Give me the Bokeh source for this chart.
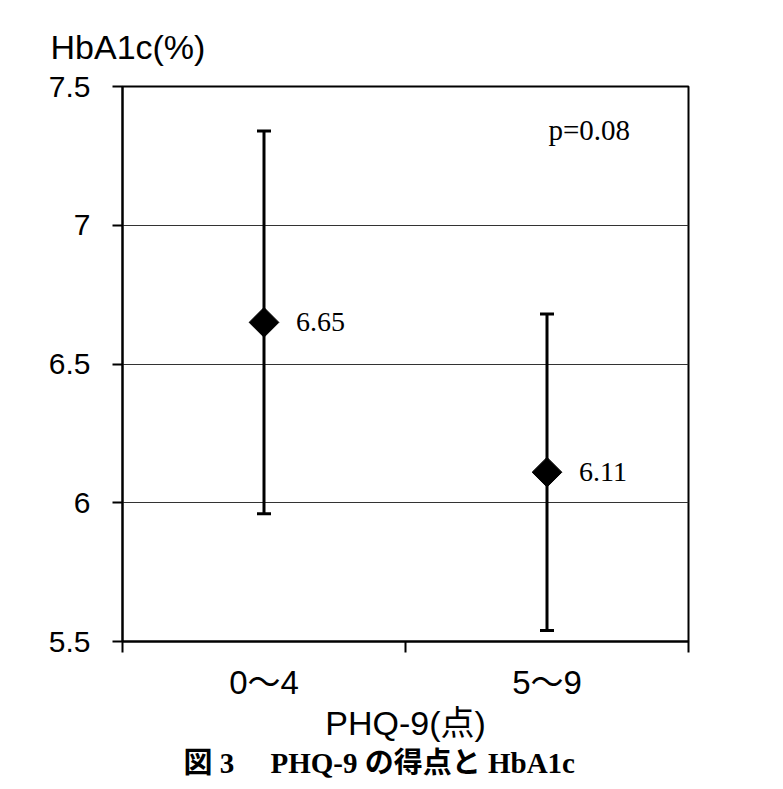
import math
from bokeh.plotting import figure
from bokeh.models import (Range1d, FixedTicker, Whisker, TeeHead, ColumnDataSource, Label, Title)
from bokeh.core.properties import value
from bokeh.embed import file_html
from bokeh.resources import INLINE

# ---- data ----
categories = ["0〜4", "5〜9"]
means = [6.65, 6.11]
upper = [7.34, 6.68]
lower = [5.96, 5.54]
mean_labels = ["6.65", "6.11"]
y_ticks = [5.5, 6, 6.5, 7, 7.5]
y_tick_labels = ["5.5", "6", "6.5", "7", "7.5"]
p_text = "p=0.08"
y_title = "HbA1c(%)"
x_title = "PHQ-9(点)"
caption = "図 3　 PHQ-9 の得点と HbA1c"

xs = [i + 0.5 for i in range(len(categories))]
bounds = [float(i) for i in range(len(categories) + 1)]

SANS = "Liberation Sans, Noto Sans CJK JP"
SERIF = "Liberation Serif, Noto Sans CJK JP"

p = figure(width=775, height=785, output_backend="svg", toolbar_location=None,
           x_range=Range1d(0, len(categories)), y_range=Range1d(y_ticks[0], y_ticks[-1]),
           min_border_left=122, min_border_right=87, min_border_top=86, min_border_bottom=144)
p.background_fill_color = "white"
p.border_fill_color = "white"
p.outline_line_color = "black"
p.outline_line_width = 2

# x axis
p.xaxis.ticker = FixedTicker(ticks=xs, minor_ticks=bounds)
p.xaxis.major_label_overrides = {x: c for x, c in zip(xs, categories)}
p.xaxis.major_tick_line_color = None
p.xaxis.major_tick_out = 0
p.xaxis.major_tick_in = 0
p.xaxis.minor_tick_line_color = "black"
p.xaxis.minor_tick_line_width = 2
p.xaxis.minor_tick_out = 11
p.xaxis.minor_tick_in = 0
p.xaxis.axis_line_color = "black"
p.xaxis.axis_line_width = 2
p.xaxis.major_label_text_font = SANS
p.xaxis.major_label_text_font_size = "33px"
p.xaxis.major_label_text_color = "black"
p.xaxis.major_label_standoff = 11

# y axis
p.yaxis.ticker = FixedTicker(ticks=y_ticks)
p.yaxis.major_label_overrides = {t: l for t, l in zip(y_ticks, y_tick_labels)}
p.yaxis.major_tick_line_color = "black"
p.yaxis.major_tick_line_width = 2
p.yaxis.major_tick_out = 10
p.yaxis.major_tick_in = 0
p.yaxis.minor_tick_line_color = None
p.yaxis.axis_line_color = "black"
p.yaxis.axis_line_width = 2
p.yaxis.major_label_text_font = SANS
p.yaxis.major_label_text_font_size = "30px"
p.yaxis.major_label_text_color = "black"
p.yaxis.major_label_standoff = 22

p.xgrid.grid_line_color = None
p.ygrid.ticker = FixedTicker(ticks=y_ticks)
p.ygrid.grid_line_color = "#333333"
p.ygrid.grid_line_width = 1

src = ColumnDataSource(dict(x=xs, mean=means, upper=upper, lower=lower, label=mean_labels))

w = Whisker(base="x", upper="upper", lower="lower", source=src, dimension="height",
            line_color="black", line_width=3,
            upper_head=TeeHead(size=14, line_width=3, line_color="black"),
            lower_head=TeeHead(size=14, line_width=3, line_color="black"))
p.add_layout(w)

p.scatter(x="x", y="mean", source=src, marker="square", angle=math.pi / 4, size=21,
          fill_color="black", line_color="black", line_width=1)

p.text(x="x", y="mean", text="label", source=src, x_offset=32,
       text_baseline="middle", text_align="left",
       text_font=value(SERIF), text_font_size="28px", text_color="black")

p.add_layout(Label(x=426, y=512, x_units="screen", y_units="screen", text=p_text,
                   text_font=SERIF, text_font_size="29px", text_color="black",
                   text_baseline="middle", text_align="left"))

# y axis title (top-left)
p.add_layout(Title(text=y_title, align="left", offset=-72, vertical_align="bottom",
                   standoff=42, text_font=SANS, text_font_size="34px",
                   text_font_style="normal", text_color="black"), "above")

# x axis title and caption
p.add_layout(Title(text=x_title, align="center", vertical_align="top", standoff=0,
                   text_font=SANS, text_font_size="34px", text_font_style="normal",
                   text_color="black"), "below")
p.add_layout(Title(text=caption, align="left", offset=61, vertical_align="top", standoff=6,
                   text_font=SERIF, text_font_size="29px", text_font_style="bold",
                   text_color="black"), "below")

open("out.html", "w").write(file_html(p, INLINE))
